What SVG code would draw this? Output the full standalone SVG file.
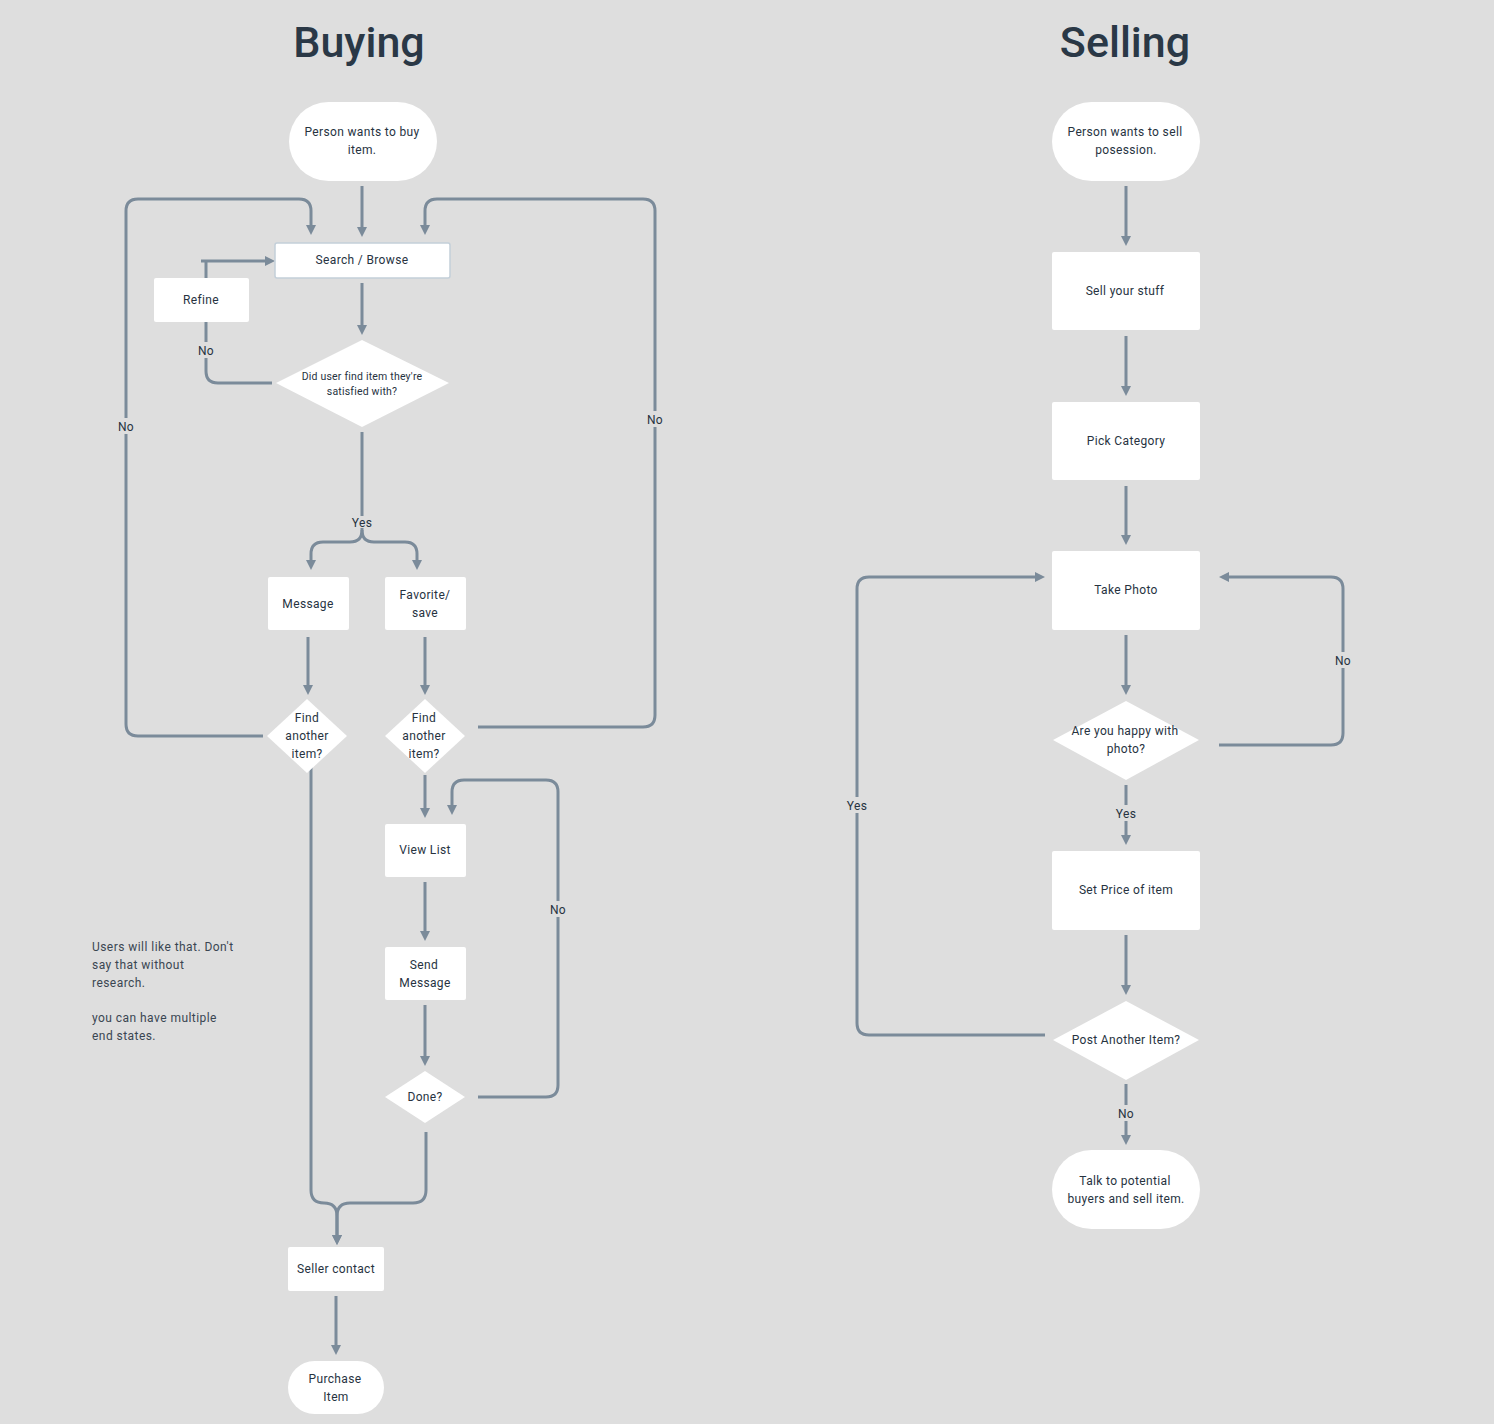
<svg xmlns="http://www.w3.org/2000/svg" width="1494" height="1424" viewBox="0 0 1494 1424">
<defs>
<marker id="ah" viewBox="0 0 10 10" refX="6" refY="5" markerWidth="10" markerHeight="10" markerUnits="userSpaceOnUse" orient="auto"><path d="M0,0 L10,5 L0,10 z" fill="#7b8b9a"/></marker>
<style>
.t{font-family:Roboto,"Liberation Sans",sans-serif;font-size:12px;letter-spacing:0.35px;fill:#27333f;text-anchor:middle}
.s{font-size:10.5px;letter-spacing:0.2px}
.h{font-family:Roboto,"Liberation Sans",sans-serif;font-size:43px;font-weight:500;fill:#2a3846;text-anchor:middle}
.n{fill:#ffffff}
.c path{fill:none;stroke:#7b8b9a;stroke-width:3}
.a{marker-end:url(#ah)}
.lb{fill:#dedede}
.note{font-family:Roboto,"Liberation Sans",sans-serif;font-size:12px;letter-spacing:0.45px;fill:#3a4652}
</style>
</defs>
<rect width="1494" height="1424" fill="#dedede"/>
<text class="h" x="359" y="57">Buying</text>
<text class="h" x="1125" y="57">Selling</text>

<g class="c" id="connectors">
<path class="a" d="M362,186 V233"/>
<path class="a" d="M263,736 H138 Q126,736 126,724 V211 Q126,199 138,199 H299 Q311,199 311,211 V231"/>
<path class="a" d="M478,727 H643 Q655,727 655,715 V211 Q655,199 643,199 H437 Q425,199 425,211 V231"/>
<path class="a" d="M362,283 V331"/>
<path d="M272,383 H218 Q206,383 206,371 V261"/>
<path class="a" d="M201,261 H271"/>
<path d="M362,432 V530 Q362,542 350,542 H323 Q311,542 311,554 V566" class="a"/>
<path d="M362,530 Q362,542 374,542 H405 Q417,542 417,554 V566" class="a"/>
<path class="a" d="M308,637 V691"/>
<path class="a" d="M425,637 V691"/>
<path d="M311,762 V1190 Q311,1203 324,1203 Q337,1203 337,1216 V1241" class="a"/>
<path d="M426,1132 V1190 Q426,1203 413,1203 H350 Q337,1203 337,1216 V1241" class="a"/>
<path class="a" d="M425,775 V814"/>
<path class="a" d="M478,1097 H546 Q558,1097 558,1085 V792 Q558,780 546,780 H464 Q452,780 452,792 V811"/>
<path class="a" d="M425,882 V937"/>
<path class="a" d="M425,1005 V1062"/>
<path class="a" d="M336,1296 V1351"/>

<path class="a" d="M1126,186 V242"/>
<path class="a" d="M1126,336 V392"/>
<path class="a" d="M1126,486 V541"/>
<path class="a" d="M1126,635 V691"/>
<path class="a" d="M1126,785 V841"/>
<path class="a" d="M1126,935 V991"/>
<path class="a" d="M1126,1084 V1141"/>
<path class="a" d="M1219,745 H1331 Q1343,745 1343,733 V589 Q1343,577 1331,577 H1223"/>
<path class="a" d="M1045,1035 H869 Q857,1035 857,1023 V589 Q857,577 869,577 H1041"/>
</g>

<g id="labels">
<rect class="lb" x="115" y="418" width="22" height="16"/><text class="t" x="126" y="431">No</text>
<rect class="lb" x="644" y="411" width="22" height="16"/><text class="t" x="655" y="424">No</text>
<rect class="lb" x="195" y="342" width="22" height="16"/><text class="t" x="206" y="355">No</text>
<rect class="lb" x="350" y="516" width="24" height="12"/><text class="t" x="362" y="527">Yes</text>
<rect class="lb" x="547" y="901" width="22" height="16"/><text class="t" x="558" y="914">No</text>
<rect class="lb" x="1332" y="652" width="22" height="16"/><text class="t" x="1343" y="665">No</text>
<rect class="lb" x="1113" y="805" width="26" height="16"/><text class="t" x="1126" y="818">Yes</text>
<rect class="lb" x="1115" y="1105" width="22" height="16"/><text class="t" x="1126" y="1118">No</text>
<rect class="lb" x="844" y="797" width="26" height="16"/><text class="t" x="857" y="810">Yes</text>
</g>

<g id="b-start"><rect class="n" x="289" y="102" width="148" height="79" rx="39.5"/><text class="t" x="362" y="136">Person wants to buy</text><text class="t" x="362" y="154">item.</text></g>
<g id="b-search"><rect class="n" x="275" y="243" width="175" height="35" rx="2" stroke="#c3cfd9" stroke-width="1.5"/><text class="t" x="362" y="264">Search / Browse</text></g>
<g id="b-refine"><rect class="n" x="154" y="278" width="95" height="44" rx="2"/><text class="t" x="201" y="304">Refine</text></g>
<g id="b-satisfied"><polygon class="n" points="362,340 449,383 362,427 276,383"/><text class="t s" x="362" y="380">Did user find item they're</text><text class="t s" x="362" y="395">satisfied with?</text></g>
<g id="b-message"><rect class="n" x="268" y="577" width="81" height="53" rx="2"/><text class="t" x="308" y="608">Message</text></g>
<g id="b-favorite"><rect class="n" x="385" y="577" width="81" height="53" rx="2"/><text class="t" x="425" y="599">Favorite/</text><text class="t" x="425" y="617">save</text></g>
<g id="b-find1"><polygon class="n" points="307,699 347,736 307,773 267,736"/><text class="t" x="307" y="722">Find</text><text class="t" x="307" y="740">another</text><text class="t" x="307" y="758">item?</text></g>
<g id="b-find2"><polygon class="n" points="425,699 465,736 425,773 385,736"/><text class="t" x="424" y="722">Find</text><text class="t" x="424" y="740">another</text><text class="t" x="424" y="758">item?</text></g>
<g id="b-viewlist"><rect class="n" x="385" y="824" width="81" height="53" rx="2"/><text class="t" x="425" y="854">View List</text></g>
<g id="b-send"><rect class="n" x="385" y="947" width="81" height="53" rx="2"/><text class="t" x="424" y="969">Send</text><text class="t" x="425" y="987">Message</text></g>
<g id="b-done"><polygon class="n" points="425,1071 465,1097 425,1123 385,1097"/><text class="t" x="425" y="1101">Done?</text></g>
<g id="b-seller"><rect class="n" x="288" y="1247" width="96" height="44" rx="2"/><text class="t" x="336" y="1273">Seller contact</text></g>
<g id="b-purchase"><rect class="n" x="288" y="1361" width="96" height="53" rx="26.5"/><text class="t" x="335" y="1383">Purchase</text><text class="t" x="336" y="1401">Item</text></g>

<g id="note"><text class="note" x="92" y="951">Users will like that. Don't</text><text class="note" x="92" y="969">say that without</text><text class="note" x="92" y="987">research.</text><text class="note" x="92" y="1022">you can have multiple</text><text class="note" x="92" y="1040">end states.</text></g>

<g id="s-start"><rect class="n" x="1052" y="102" width="148" height="79" rx="39.5"/><text class="t" x="1125" y="136">Person wants to sell</text><text class="t" x="1126" y="154">posession.</text></g>
<g id="s-sell"><rect class="n" x="1052" y="252" width="148" height="78" rx="2"/><text class="t" x="1125" y="295">Sell your stuff</text></g>
<g id="s-category"><rect class="n" x="1052" y="402" width="148" height="78" rx="2"/><text class="t" x="1126" y="445">Pick Category</text></g>
<g id="s-photo"><rect class="n" x="1052" y="551" width="148" height="79" rx="2"/><text class="t" x="1126" y="594">Take Photo</text></g>
<g id="s-happy"><polygon class="n" points="1126,701 1199,740 1126,780 1053,740"/><text class="t" x="1125" y="735">Are you happy with</text><text class="t" x="1126" y="753">photo?</text></g>
<g id="s-price"><rect class="n" x="1052" y="851" width="148" height="79" rx="2"/><text class="t" x="1126" y="894">Set Price of item</text></g>
<g id="s-post"><polygon class="n" points="1126,1001 1199,1040 1126,1080 1053,1040"/><text class="t" x="1126" y="1044">Post Another Item?</text></g>
<g id="s-talk"><rect class="n" x="1052" y="1150" width="148" height="79" rx="39.5"/><text class="t" x="1125" y="1185">Talk to potential</text><text class="t" x="1126" y="1203">buyers and sell item.</text></g>
</svg>
